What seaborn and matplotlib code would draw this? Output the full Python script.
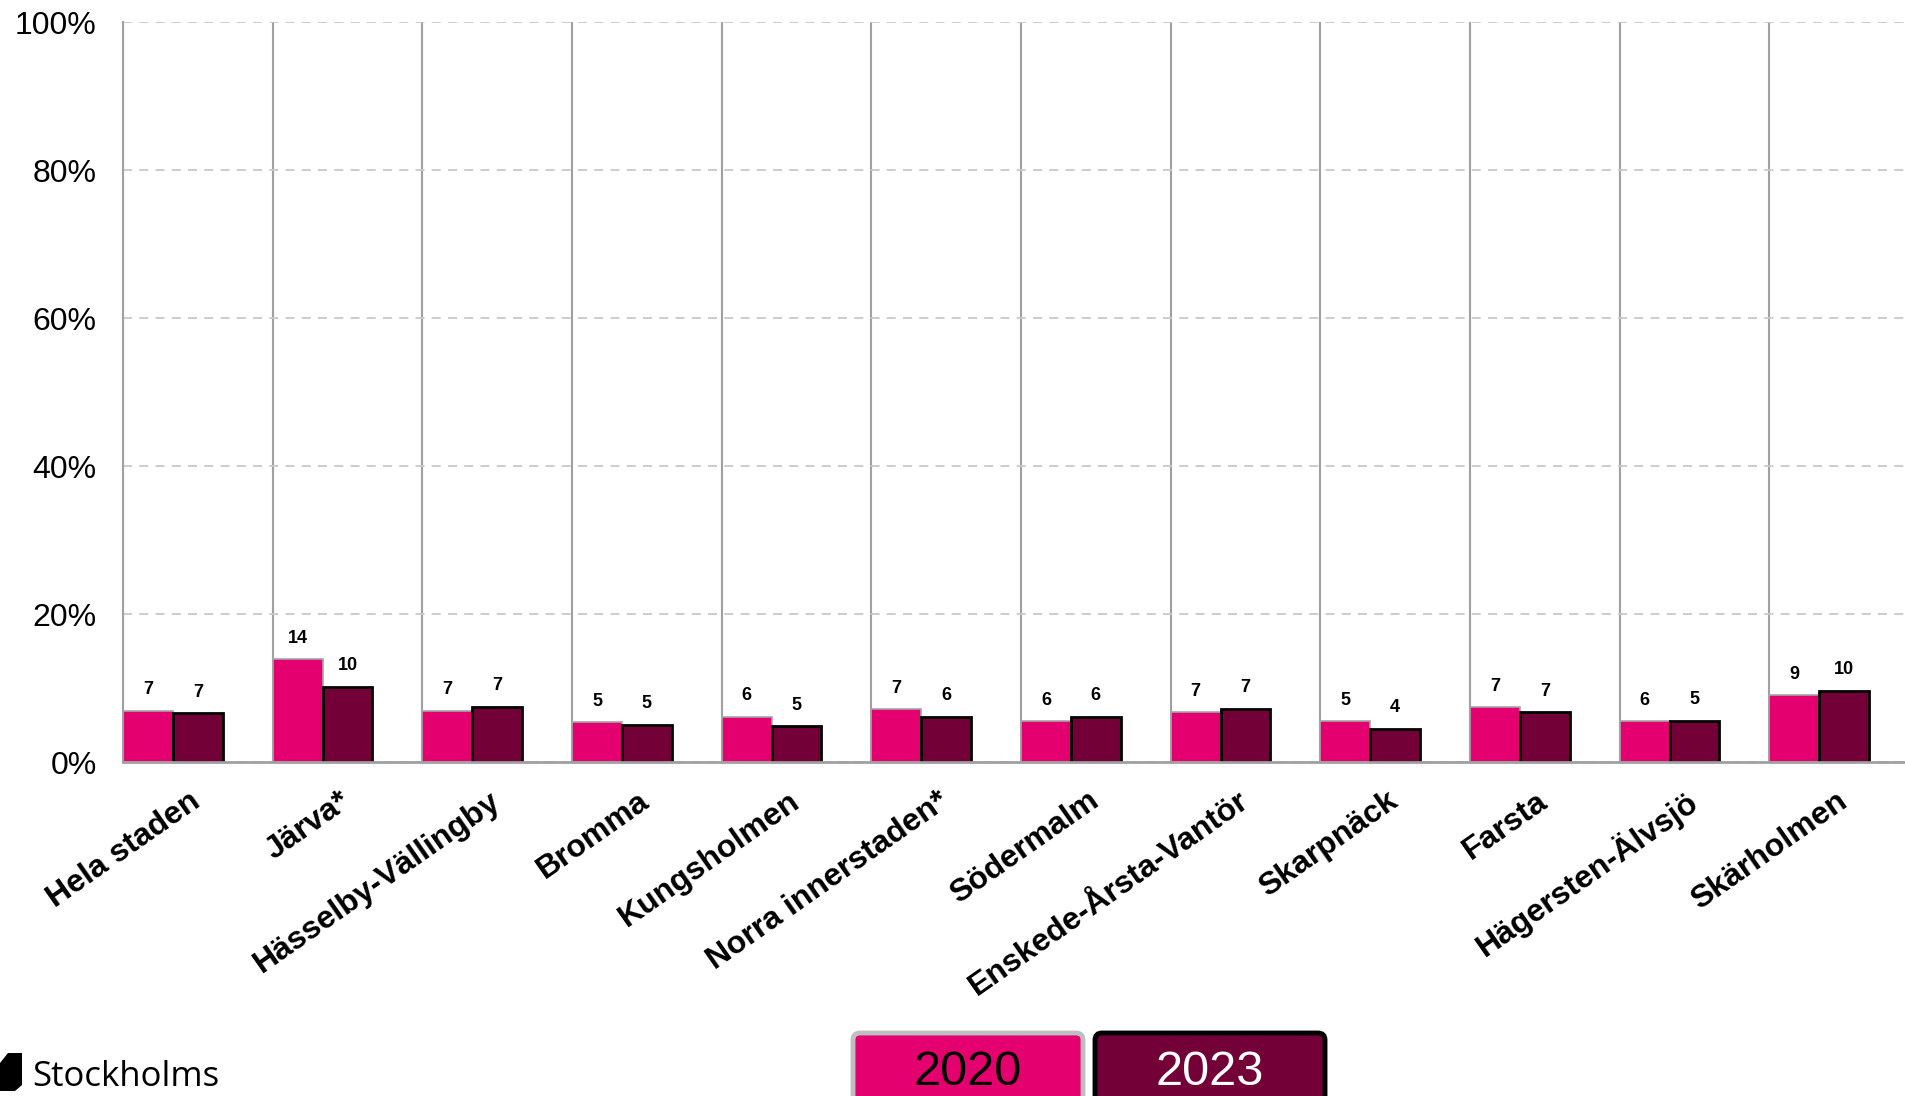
import matplotlib
matplotlib.use('Agg')
import matplotlib.pyplot as plt
import seaborn as sns
import pandas as pd
import numpy as np
from matplotlib.patches import FancyBboxPatch, Polygon
from matplotlib.ticker import PercentFormatter

# data (share in %)
districts = ['Hela staden', 'Järva*', 'Hässelby-Vällingby', 'Bromma', 'Kungsholmen',
             'Norra innerstaden*', 'Södermalm', 'Enskede-Årsta-Vantör', 'Skarpnäck',
             'Farsta', 'Hägersten-Älvsjö', 'Skärholmen']
share_2020 = [6.9, 13.9, 6.9, 5.4, 6.1, 7.1, 5.5, 6.7, 5.5, 7.4, 5.5, 9.0]
share_2023 = [6.6, 10.2, 7.5, 5.0, 4.8, 6.1, 6.1, 7.2, 4.5, 6.7, 5.6, 9.6]
labels_2020 = ['7', '14', '7', '5', '6', '7', '6', '7', '5', '7', '6', '9']
labels_2023 = ['7', '10', '7', '5', '5', '6', '6', '7', '4', '7', '5', '10']
years = ['2020', '2023']

PINK = '#E4006E'
DARK = '#730037'
GREY = '#A0A0A0'

df = pd.DataFrame({
    'Område': districts * 2,
    'Andel': share_2020 + share_2023,
    'År': [years[0]] * len(districts) + [years[1]] * len(districts),
})

sns.set_style('white')
plt.rcParams['font.family'] = ['Liberation Sans', 'DejaVu Sans']
plt.rcParams['text.color'] = 'black'
plt.rcParams['xtick.color'] = 'black'
plt.rcParams['ytick.color'] = 'black'

fig = plt.figure(figsize=(19.05, 10.96), dpi=100)
ax = fig.add_axes([123 / 1905, 1 - 762 / 1096, 1796 / 1905, 740 / 1096])

# third (empty) hue level keeps each pair in the left two thirds of its group
sns.barplot(data=df, x='Område', y='Andel', hue='År', hue_order=years + [' '],
            palette={'2020': PINK, '2023': DARK, ' ': 'white'},
            order=districts, width=1.0, dodge=True, legend=False, ax=ax,
            saturation=1, errorbar=None)

for cont, ec, lw, labs in zip(ax.containers, ['#A6A6A6', 'black'], [1.2, 2.0],
                              [labels_2020, labels_2023]):
    for bar in cont:
        bar.set_edgecolor(ec)
        bar.set_linewidth(lw)
    ax.bar_label(cont, labels=labs, padding=9, fontsize=13, fontweight='bold',
                 color='black')

ax.set_xlim(-0.5, len(districts) - 0.5)
ax.set_ylim(0, 100)
ax.set_yticks(np.arange(0, 101, 20))
ax.yaxis.set_major_formatter(PercentFormatter(decimals=0))
ax.set_xlabel('')
ax.set_ylabel('')

# group separators
ax.set_xticks(np.arange(-0.5, len(districts), 1), minor=True)
ax.grid(which='minor', axis='x', color=GREY, linestyle='-', linewidth=1.5)
ax.grid(which='major', axis='y', color='#C8C8C8', linestyle=(0, (5, 4)), linewidth=1.3)
ax.grid(which='major', axis='x', visible=False)
ax.set_axisbelow(True)

ax.tick_params(axis='x', which='minor', length=6.5, width=1.5, color=GREY, direction='out')
ax.tick_params(axis='x', which='major', length=0, pad=26)
ax.tick_params(axis='y', length=0, pad=19, labelsize=23)

for lab in ax.get_xticklabels():
    lab.set_rotation(35)
    lab.set_ha('right')
    lab.set_va('center')
    lab.set_rotation_mode('anchor')
    lab.set_fontsize(23)
    lab.set_fontweight('bold')

for side in ['top', 'right']:
    ax.spines[side].set_visible(False)
ax.spines['left'].set_color(GREY)
ax.spines['left'].set_linewidth(1.5)
ax.spines['bottom'].set_color(GREY)
ax.spines['bottom'].set_linewidth(2)

# legend boxes at the bottom
tr = fig.dpi_scale_trans
for x0, fc, ec, tc, year in [(8.53, PINK, '#BFBFBF', 'black', years[0]),
                             (10.95, DARK, 'black', 'white', years[1])]:
    fig.patches.append(FancyBboxPatch((x0, -0.07), 2.30, 0.70,
                                      boxstyle='round,pad=0,rounding_size=0.07',
                                      fc=fc, ec=ec, lw=3.5, transform=tr, figure=fig))
    fig.text(x0 + 1.15, 0.11, year, transform=tr, ha='center', va='baseline',
             fontsize=35, color=tc)

# city logo
fig.patches.append(Polygon([(0, 0.33), (0.08, 0.43), (0.22, 0.43), (0.22, 0.11),
                            (0.15, 0.05), (0, 0.05)], closed=True, fc='black', ec='none',
                           transform=tr, figure=fig))
fig.text(0.32, 0.095, 'Stockholms', transform=tr, ha='left', va='baseline',
         fontsize=25, family='Open Sans', color='black')

fig.savefig('out.png', dpi=100)
